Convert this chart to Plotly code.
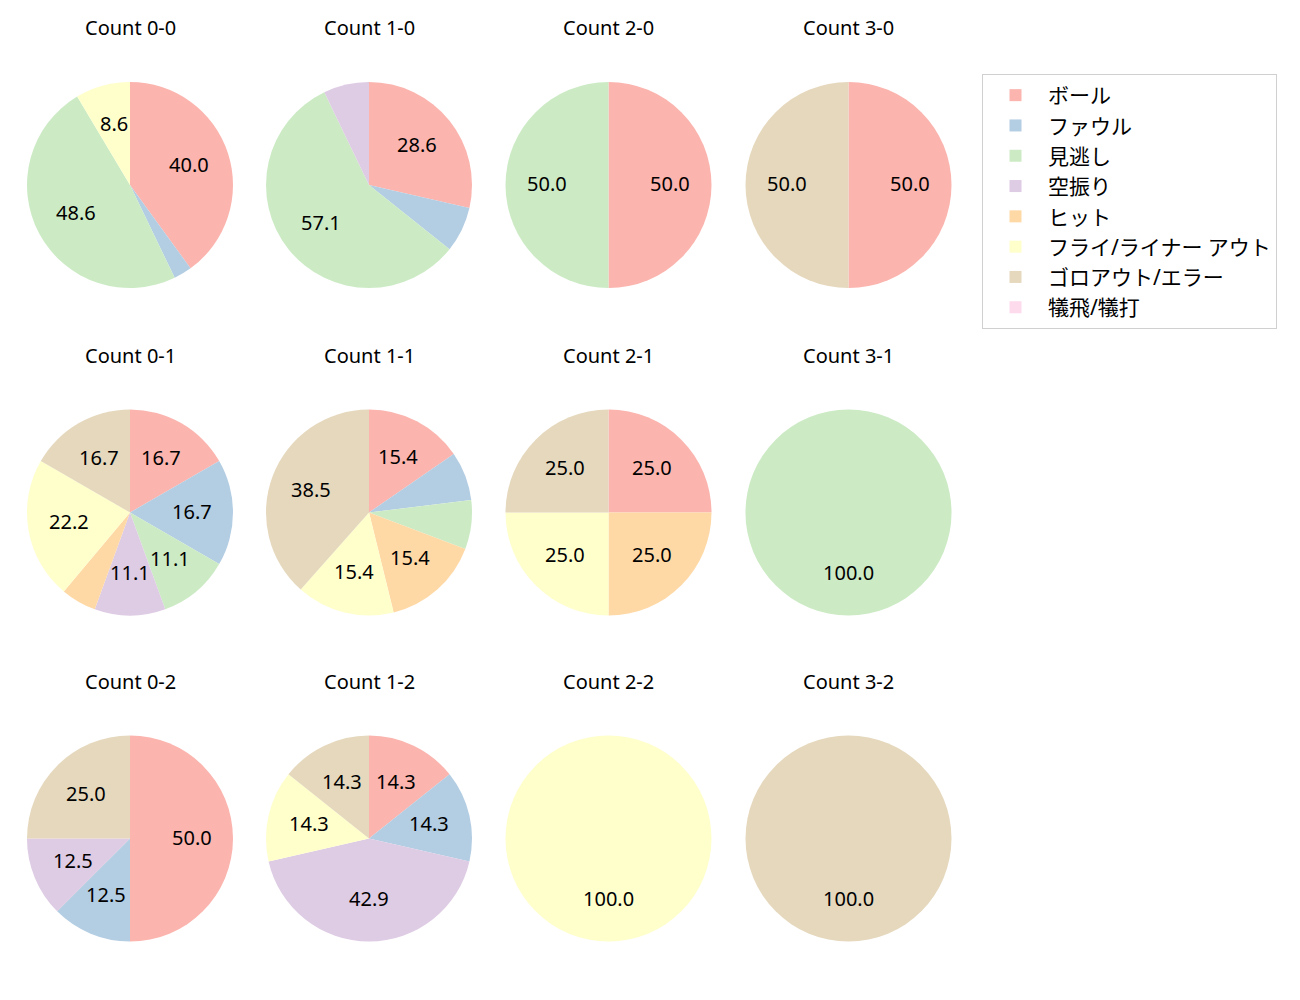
import math
import plotly.graph_objects as go

# ---------------- data ----------------
categories = ["ボール", "ファウル", "見逃し", "空振り", "ヒット",
              "フライ/ライナー アウト", "ゴロアウト/エラー", "犠飛/犠打"]
colors = ["#fbb4ae", "#b3cde3", "#ccebc5", "#decbe4",
          "#fed9a6", "#ffffcc", "#e5d8bd", "#fddaec"]

titles = [
    ["Count 0-0", "Count 1-0", "Count 2-0", "Count 3-0"],
    ["Count 0-1", "Count 1-1", "Count 2-1", "Count 3-1"],
    ["Count 0-2", "Count 1-2", "Count 2-2", "Count 3-2"],
]

count_0_0 = [14, 1, 17, 0, 0, 3, 0, 0]
count_1_0 = [4, 1, 8, 1, 0, 0, 0, 0]
count_2_0 = [1, 0, 1, 0, 0, 0, 0, 0]
count_3_0 = [1, 0, 0, 0, 0, 0, 1, 0]
count_0_1 = [3, 3, 2, 2, 1, 4, 3, 0]
count_1_1 = [2, 1, 1, 0, 2, 2, 5, 0]
count_2_1 = [1, 0, 0, 0, 1, 1, 1, 0]
count_3_1 = [0, 0, 1, 0, 0, 0, 0, 0]
count_0_2 = [4, 1, 0, 1, 0, 0, 2, 0]
count_1_2 = [1, 1, 0, 3, 0, 1, 1, 0]
count_2_2 = [0, 0, 0, 0, 0, 1, 0, 0]
count_3_2 = [0, 0, 0, 0, 0, 0, 1, 0]

grid = [
    [count_0_0, count_1_0, count_2_0, count_3_0],
    [count_0_1, count_1_1, count_2_1, count_3_1],
    [count_0_2, count_1_2, count_2_2, count_3_2],
]

MIN_PCT = 8.0  # labels hidden below this share

# ---------------- layout ----------------
W, H = 1300, 1000
col_cx = [130, 369, 608.5, 848.5]
row_cy = [185, 512.5, 838.5]
R = 103
FONT = "Noto Sans, Noto Sans CJK JP, sans-serif"
FS = 20
TITLE_LIFT = 0.5
LABEL_LIFT = 1.5

fig = go.Figure()
annotations = []

for ri, row in enumerate(grid):
    for ci, vals in enumerate(row):
        cx, cy = col_cx[ci], row_cy[ri]
        dom_x = [(cx - R) / W, (cx + R) / W]
        dom_y = [1 - (cy + R) / H, 1 - (cy - R) / H]
        fig.add_trace(go.Pie(
            labels=categories,
            values=vals,
            marker=dict(colors=colors, line=dict(width=0)),
            sort=False,
            direction="clockwise",
            rotation=0,
            textinfo="none",
            domain=dict(x=dom_x, y=dom_y),
            showlegend=(ri == 0 and ci == 0),
            hovertemplate="%{label}: %{percent}<extra></extra>",
        ))
        # title
        annotations.append(dict(
            x=cx / W, y=1 - (cy - R - 54 - TITLE_LIFT) / H, xref="paper", yref="paper",
            text=titles[ri][ci], showarrow=False,
            xanchor="center", yanchor="middle",
            font=dict(family=FONT, size=FS, color="#000000"),
        ))
        # percentage labels at 0.6 radius (derived from values)
        total = sum(vals)
        cum = 0
        for v in vals:
            if v > 0:
                pct = 100.0 * v / total
                if pct >= MIN_PCT:
                    ang = math.radians(90 - 360.0 * (cum + v / 2.0) / total)
                    px = cx + 0.6 * R * math.cos(ang)
                    py = cy - 0.6 * R * math.sin(ang) - LABEL_LIFT
                    annotations.append(dict(
                        x=px / W, y=1 - py / H, xref="paper", yref="paper",
                        text=f"{pct:.1f}", showarrow=False,
                        xanchor="center", yanchor="middle",
                        font=dict(family=FONT, size=FS, color="#000000"),
                    ))
            cum += v

fig.update_layout(
    width=W, height=H,
    margin=dict(l=0, r=0, t=0, b=0),
    paper_bgcolor="white",
    plot_bgcolor="white",
    annotations=annotations,
    legend=dict(
        x=982 / W, y=1 - 74 / H, xanchor="left", yanchor="top",
        bgcolor="white", bordercolor="#d0d0d0", borderwidth=1,
        font=dict(family=FONT, size=21, color="#000000"),
        traceorder="normal",
        itemwidth=55,
    ),
)

fig.write_html("out.html")
